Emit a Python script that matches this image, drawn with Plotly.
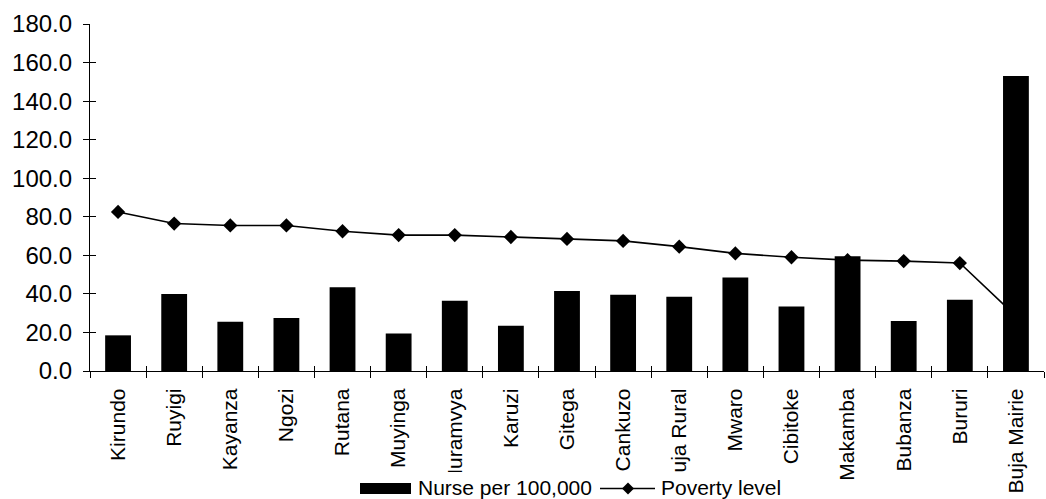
import plotly.graph_objects as go

# Provinces, nurse density and poverty rate
provinces = ["Kirundo", "Ruyigi", "Kayanza", "Ngozi", "Rutana", "Muyinga",
             "Muramvya", "Karuzi", "Gitega", "Cankuzo", "Buja Rural", "Mwaro",
             "Cibitoke", "Makamba", "Bubanza", "Bururi", "Buja Mairie"]
nurses_per_100k = [18.5, 40.0, 25.5, 27.5, 43.5, 19.5, 36.5, 23.5, 41.5,
                   39.5, 38.5, 48.5, 33.5, 59.5, 26.0, 37.0, 153.0]
poverty_level = [82.5, 76.5, 75.5, 75.5, 72.5, 70.5, 70.5, 69.5, 68.5,
                 67.5, 64.5, 61.0, 59.0, 57.5, 57.0, 56.0, 28.5]
y_ticks = [0, 20, 40, 60, 80, 100, 120, 140, 160, 180]

FONT = "Liberation Sans, Arial, sans-serif"
W, H = 1046, 499
M = dict(l=90, r=2, t=24, b=128)

fig = go.Figure()
fig.add_trace(go.Bar(
    x=provinces, y=nurses_per_100k, name="Nurse per 100,000",
    marker=dict(color="black", line=dict(width=0)), width=0.46,
    showlegend=False,
))
fig.add_trace(go.Scatter(
    x=provinces, y=poverty_level, name="Poverty level", mode="lines+markers",
    line=dict(color="black", width=1.6),
    marker=dict(symbol="diamond", size=11, color="black"),
    showlegend=False,
))
# empty trace that carries the overlay axes used for inward tick marks
fig.add_trace(go.Scatter(x=[], y=[], xaxis="x2", yaxis="y2", showlegend=False))

n = len(provinces)
fig.update_layout(
    width=W, height=H,
    margin=M,
    paper_bgcolor="white", plot_bgcolor="white",
    font=dict(family=FONT, color="black"),
    xaxis=dict(
        type="category", range=[-0.5, n - 0.5], automargin=False,
        showline=True, linecolor="black", linewidth=1.2,
        ticks="outside", ticklen=6, tickcolor="black", tickson="boundaries",
        tickangle=-90, tickfont=dict(size=21, family=FONT),
        ticklabelstandoff=8, showgrid=False, zeroline=False,
    ),
    yaxis=dict(
        range=[0, 180], tickvals=y_ticks, tickformat=".1f", automargin=False,
        showline=True, linecolor="black", linewidth=1.2,
        ticks="outside", ticklen=6, tickcolor="black",
        tickfont=dict(size=24, family=FONT), ticklabelstandoff=6,
        showgrid=False, zeroline=False,
    ),
    xaxis2=dict(
        overlaying="x", range=[-0.5, n - 0.5], automargin=False,
        tickvals=[i + 0.5 for i in range(n - 1)],
        ticks="inside", ticklen=5, tickcolor="black",
        showticklabels=False, showgrid=False, zeroline=False, showline=False,
        side="bottom",
    ),
    yaxis2=dict(
        overlaying="y", range=[0, 180], tickvals=y_ticks, automargin=False,
        ticks="inside", ticklen=6, tickcolor="black",
        showticklabels=False, showgrid=False, zeroline=False, showline=False,
        side="left",
    ),
    bargap=0.5,
)

# legend drawn below the axis labels; pixel positions converted to paper units
plot_w = W - M["l"] - M["r"]
plot_h = H - M["t"] - M["b"]


def px_x(p):
    return (p - M["l"]) / plot_w


def px_y(p):
    return (H - M["b"] - p) / plot_h


legend_y = 488.5
shapes = [
    # white legend box sits over the ends of the longest category labels
    dict(type="rect", xref="paper", yref="paper", layer="above",
         x0=px_x(345), x1=px_x(790), y0=px_y(472), y1=px_y(H),
         fillcolor="white", line=dict(width=0)),
    dict(type="rect", xref="paper", yref="paper", layer="above",
         x0=px_x(360), x1=px_x(411), y0=px_y(legend_y - 5.5), y1=px_y(legend_y + 5.5),
         fillcolor="black", line=dict(width=0)),
    dict(type="line", xref="paper", yref="paper", layer="above",
         x0=px_x(600), x1=px_x(655), y0=px_y(legend_y), y1=px_y(legend_y),
         line=dict(color="black", width=1.6)),
    dict(type="path", xref="paper", yref="paper", layer="above",
         path=(f"M {px_x(622)},{px_y(legend_y)} L {px_x(628)},{px_y(legend_y - 6)} "
               f"L {px_x(634)},{px_y(legend_y)} L {px_x(628)},{px_y(legend_y + 6)} Z"),
         fillcolor="black", line=dict(width=0)),
]
annotations = [
    dict(text="Nurse per 100,000", xref="paper", yref="paper",
         x=px_x(416), y=px_y(legend_y - 1.5), xanchor="left", yanchor="middle",
         showarrow=False, font=dict(size=21, family=FONT, color="black")),
    dict(text="Poverty level", xref="paper", yref="paper",
         x=px_x(659), y=px_y(legend_y - 1.5), xanchor="left", yanchor="middle",
         showarrow=False, font=dict(size=21, family=FONT, color="black")),
]
fig.update_layout(shapes=shapes, annotations=annotations)

fig.write_html("out.html")
